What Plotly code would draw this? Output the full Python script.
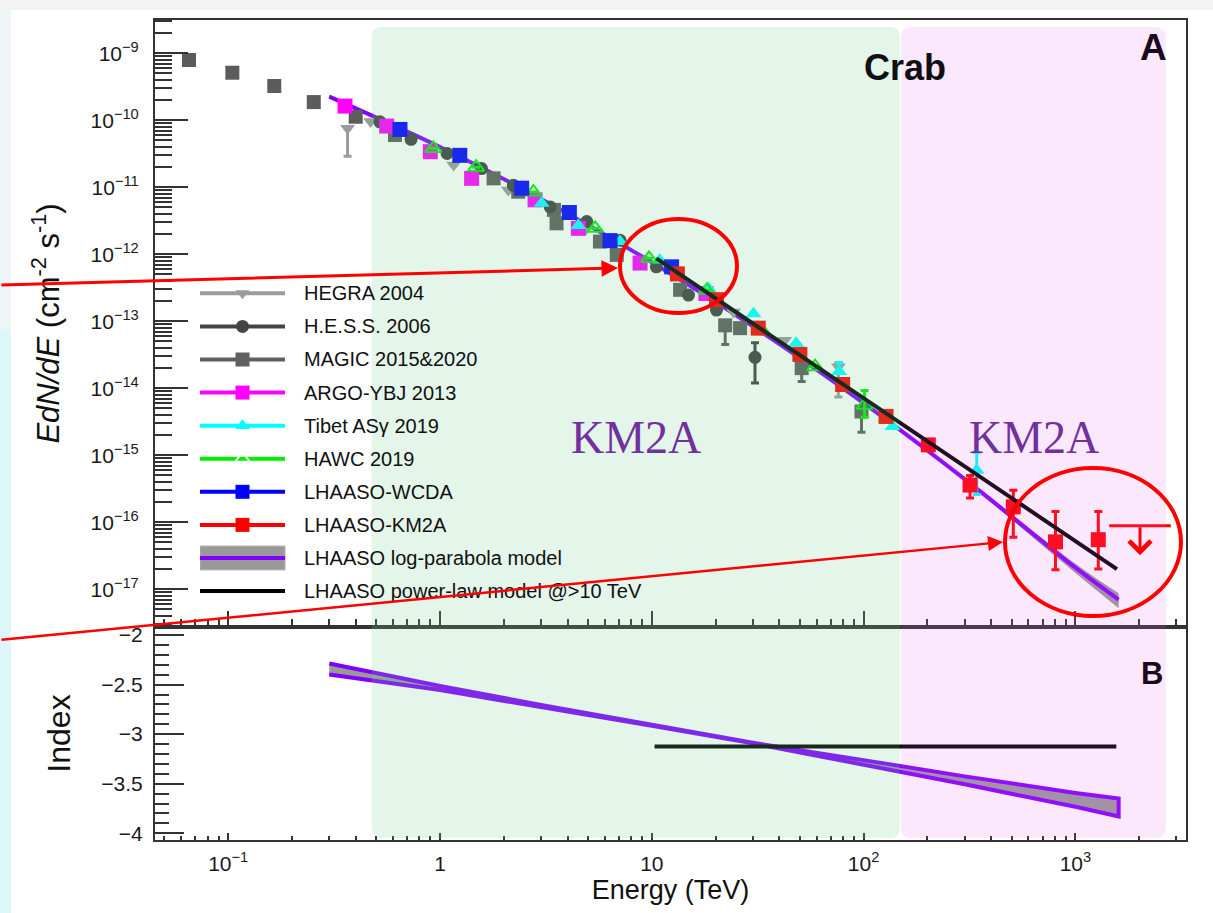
import html
import math
import plotly.graph_objects as go

# ------------------------------------------------------------------ data
# Crab Nebula spectrum: E in TeV, E dN/dE in cm^-2 s^-1.
# *_HI / *_LO hold error-bar ends (None where no bar is drawn).
HEGRA_E = [0.366, 0.47, 1.16, 2.1, 4.84, 24.3, 42.4, 76.0]
HEGRA_F = [7.6e-11, 9.6e-11, 2.15e-11, 9.1e-12, 2.3e-12, 1.38e-13, 5.2e-14, 2.1e-14]
HEGRA_HI = [None, None, None, None, None, None, None, 2.4e-14]
HEGRA_LO = [2.9e-11, None, None, None, None, None, None, 7.4e-15]

HESS_E = [0.52, 0.73, 1.08, 1.57, 2.22, 3.31, 4.93, 7.08, 10.5, 14.9, 20.2, 30.7]
HESS_F = [9.5e-11, 5.2e-11, 3.2e-11, 1.9e-11, 1.07e-11, 5.1e-12, 3.08e-12, 1.62e-12,
          6.5e-13, 2.46e-13, 1.47e-13, 2.9e-14]
HESS_HI = [None] * 11 + [4.8e-14]
HESS_LO = [None] * 11 + [1.2e-14]

MAGIC_E = [0.0653, 0.1046, 0.165, 0.2535, 0.40, 0.613, 1.79, 2.34, 3.45, 3.55, 5.69,
           6.83, 13.6, 22.2, 26.1, 51.0, 97.7]
MAGIC_F = [7.94e-10, 5.13e-10, 3.25e-10, 1.87e-10, 1.13e-10, 6.04e-11, 1.36e-11, 8.6e-12,
           4.6e-12, 2.9e-12, 1.55e-12, 9.8e-13, 2.95e-13, 8.7e-14, 7.9e-14, 2.0e-14, 4.5e-15]
MAGIC_HI = [None] * 13 + [1.0e-13, None, 2.3e-14, 5.5e-15]
MAGIC_LO = [None] * 13 + [4.5e-14, None, 1.26e-14, 2.2e-15]

ARGO_E = [0.356, 0.56, 0.90, 1.41, 2.81, 4.5, 8.8, 18.0]
ARGO_F = [1.63e-10, 8.2e-11, 3.4e-11, 1.36e-11, 6.5e-12, 2.44e-12, 7.4e-13, 2.6e-13]

TIBET_E = [3.02, 4.5, 7.08, 10.9, 18.5, 30.2, 48.0, 76.7, 137.0, 342.0]
TIBET_F = [5.8e-12, 2.7e-12, 1.55e-12, 8.2e-13, 3.1e-13, 1.3e-13, 4.7e-14, 1.78e-14,
           2.7e-15, 6.0e-16]
TIBET_HI = [None] * 7 + [2.4e-14, None, 1.1e-15]
TIBET_LO = [None] * 7 + [None, None, 2.6e-16]

HAWC_E = [0.93, 1.48, 2.76, 5.4, 9.7, 18.2, 33.0, 59.0, 101.0]
HAWC_F = [3.8e-11, 2.0e-11, 8.5e-12, 2.44e-12, 8.7e-13, 2.9e-13, 7.4e-14, 2.1e-14, 5.6e-15]
HAWC_HI = [None] * 8 + [9.3e-15]
HAWC_LO = [None] * 8 + [3.7e-15]

WCDA_E = [0.647, 1.24, 2.43, 4.08, 6.35, 12.4]
WCDA_F = [7.3e-11, 3.0e-11, 9.7e-12, 4.2e-12, 1.6e-12, 6.5e-13]

KM2A_E = [13.2, 20.2, 31.8, 50.0, 79.6, 127.6, 202.0, 318.0, 509.0, 805.0, 1282.0]
KM2A_F = [5.1e-13, 2.1e-13, 7.9e-14, 3.2e-14, 1.14e-14, 3.8e-15, 1.43e-15, 3.6e-16,
          1.7e-16, 5.1e-17, 5.5e-17]
KM2A_HI = [None] * 7 + [5.0e-16, 3.0e-16, 1.45e-16, 1.45e-16]
KM2A_LO = [None] * 7 + [2.3e-16, 6.0e-17, 1.95e-17, 2.0e-17]
KM2A_UL_E = [2018.0]
KM2A_UL_F = [8.9e-17]

# LHAASO log-parabola fit (line and its band) and power law above 10 TeV
LP_E = [0.3, 1, 3, 10, 30, 100, 300, 1000, 1600]
LP_F = [2.26e-10, 4.0e-11, 6.7e-12, 7.6e-13, 8.4e-14, 6.0e-15, 4.4e-16, 2.1e-17, 7.0e-18]
LP_F_HI = [2.36e-10, 4.1e-11, 6.8e-12, 7.7e-13, 8.5e-14, 6.2e-15, 4.7e-16, 2.4e-17, 8.7e-18]
LP_F_LO = [2.16e-10, 3.9e-11, 6.6e-12, 7.5e-13, 8.3e-14, 5.8e-15, 4.1e-16, 1.75e-17, 5.2e-18]
PL_E = [10.5, 1570.0]
PL_F = [8.7e-13, 2.0e-17]

# local spectral index of the fits
IDX_E = [0.3, 1, 3, 10, 30, 100, 300, 1000, 1600]
IDX_HI = [-2.288, -2.515, -2.705, -2.906, -3.087, -3.262, -3.426, -3.593, -3.650]
IDX_LO = [-2.398, -2.555, -2.725, -2.916, -3.093, -3.312, -3.506, -3.733, -3.830]
PL_IDX_E = [10.3, 1560.0]
PL_IDX = [-3.125, -3.125]

# energy bands highlighted behind the spectrum (TeV)
BAND_GREEN_E = [0.476, 148.6]
BAND_PINK_E = [150.2, 2670.0]

# axis ticks
X_TICKS = [0.1, 1, 10, 100, 1000]
X_TICKTEXT = ["10<sup>\u22121</sup>", "1", "10", "10<sup>2</sup>", "10<sup>3</sup>"]
Y_TICKS = [1e-9, 1e-10, 1e-11, 1e-12, 1e-13, 1e-14, 1e-15, 1e-16, 1e-17]
Y_TICKTEXT = ["10<sup>\u22129</sup>", "10<sup>\u221210</sup>", "10<sup>\u221211</sup>",
              "10<sup>\u221212</sup>", "10<sup>\u221213</sup>", "10<sup>\u221214</sup>",
              "10<sup>\u221215</sup>", "10<sup>\u221216</sup>", "10<sup>\u221217</sup>"]

LEGEND_LABELS = ["HEGRA 2004", "H.E.S.S. 2006", "MAGIC 2015&2020", "ARGO-YBJ 2013",
                 "Tibet AS\u03b3 2019", "HAWC 2019", "LHAASO-WCDA", "LHAASO-KM2A",
                 "LHAASO log-parabola model", "LHAASO power-law model @>10 TeV"]

# ------------------------------------------------------------------ layout geometry
W, H = 1213, 913
ML, MR, MT, MB = 155, 27, 20, 73
PW, PH = W - ML - MR, H - MT - MB
SPLIT_PX = 627
X_RANGE = [-1.3456, 3.522]
Y1_RANGE = [-17.563, -8.503]
Y2_RANGE = [-4.068, -1.919]

FONT = "Liberation Sans, Arial, sans-serif"
AXC = "#333333"
PURPLE = "#8000ff"
GRAY_BAND = "#999999"
RED = "#ff0000"


def px_x(px):
    return (px - ML) / PW


def px_y(py):
    return (H - MB - py) / PH


def e_paper(e):
    return (math.log10(e) - X_RANGE[0]) / (X_RANGE[1] - X_RANGE[0])


split = px_y(SPLIT_PX)

fig = go.Figure()


def err_bars(f, hi, lo, color):
    if hi is None:
        return None
    up = [None if h is None else h - v for h, v in zip(hi, f)]
    dn = [None if l is None else v - l for l, v in zip(lo, f)]
    return dict(type="data", symmetric=False, array=up, arrayminus=dn,
                color=color, thickness=3, width=4)


# log-parabola band + line
fig.add_trace(go.Scatter(x=LP_E, y=LP_F_LO, mode="lines", line=dict(width=0, shape="spline"),
                         showlegend=False, hoverinfo="skip"))
fig.add_trace(go.Scatter(x=LP_E, y=LP_F_HI, mode="lines", line=dict(width=0, shape="spline"),
                         fill="tonexty", fillcolor=GRAY_BAND, showlegend=False, hoverinfo="skip"))
fig.add_trace(go.Scatter(x=LP_E, y=LP_F, mode="lines",
                         line=dict(color=PURPLE, width=4, shape="spline"), showlegend=False))

SERIES = [
    (HEGRA_E, HEGRA_F, HEGRA_HI, HEGRA_LO, "#9b9b9b", "triangle-down", 13),
    (MAGIC_E, MAGIC_F, MAGIC_HI, MAGIC_LO, "#5c5c5c", "square", 14),
    (HESS_E, HESS_F, HESS_HI, HESS_LO, "#3f3f3f", "circle", 13),
    (ARGO_E, ARGO_F, None, None, "#ff00ff", "square", 15),
    (TIBET_E, TIBET_F, TIBET_HI, TIBET_LO, "#00ffff", "triangle-up", 14),
    (HAWC_E, HAWC_F, HAWC_HI, HAWC_LO, "#00ee00", "triangle-up-open", 14),
    (WCDA_E, WCDA_F, None, None, "#0000ff", "square", 15),
    (KM2A_E, KM2A_F, KM2A_HI, KM2A_LO, RED, "square", 15),
]
for e, f, hi, lo, col, sym, size in SERIES:
    marker = dict(symbol=sym, size=size, color=col)
    if sym.endswith("open"):
        marker["line"] = dict(color=col, width=2)
    fig.add_trace(go.Scatter(x=e, y=f, mode="markers", marker=marker,
                             error_y=err_bars(f, hi, lo, col), showlegend=False))

# KM2A upper limit: horizontal bar, arrow added below as an annotation
fig.add_trace(go.Scatter(x=KM2A_UL_E, y=KM2A_UL_F, mode="markers",
                         marker=dict(symbol="line-ew", size=44, line=dict(color=RED, width=3)),
                         showlegend=False))

# power law above 10 TeV
fig.add_trace(go.Scatter(x=PL_E, y=PL_F, mode="lines", line=dict(color="black", width=4),
                         showlegend=False))

# index panel
fig.add_trace(go.Scatter(x=IDX_E + IDX_E[::-1], y=IDX_HI + IDX_LO[::-1], mode="lines",
                         fill="toself", fillcolor=GRAY_BAND,
                         line=dict(color=PURPLE, width=4), xaxis="x2", yaxis="y2",
                         showlegend=False))
fig.add_trace(go.Scatter(x=PL_IDX_E, y=PL_IDX, mode="lines", line=dict(color="black", width=4),
                         xaxis="x2", yaxis="y2", showlegend=False))

# ------------------------------------------------------------------ hand-made legend
# x3 spans 200..700 px; one unit of x3 is the 85 px sample length
LEG_X_PX = (200, 700)
LEG_UNIT = 85.0
LEG_STYLES = [
    ("#9b9b9b", "triangle-down", 12),
    ("#444444", "circle", 13),
    ("#606060", "square", 14),
    ("#ff00ff", "square", 14),
    ("#00ffff", "triangle-up", 13),
    ("#00ee00", "triangle-up-open", 13),
    ("#0000ff", "square", 14),
    (RED, "square", 14),
]
leg = dict(xaxis="x3", yaxis="y3", showlegend=False, hoverinfo="skip", cliponaxis=False)
for i, (col, sym, size) in enumerate(LEG_STYLES):
    fig.add_trace(go.Scatter(x=[0, 1], y=[i, i], mode="lines", line=dict(color=col, width=4),
                             **leg))
    mk = dict(symbol=sym, size=size, color=col)
    if sym.endswith("open"):
        mk["line"] = dict(color=col, width=2)
        mk["color"] = "white"
    fig.add_trace(go.Scatter(x=[0.5], y=[i], mode="markers", marker=mk, **leg))
n = len(LEG_STYLES)
fig.add_trace(go.Scatter(x=[0, 1, 1, 0, 0], y=[n - 0.36, n - 0.36, n + 0.36, n + 0.36, n - 0.36],
                         mode="lines", fill="toself", fillcolor=GRAY_BAND,
                         line=dict(color="#b0b0b0", width=1), **leg))
fig.add_trace(go.Scatter(x=[0, 1], y=[n, n], mode="lines", line=dict(color=PURPLE, width=4),
                         **leg))
fig.add_trace(go.Scatter(x=[0, 1], y=[n + 1, n + 1], mode="lines",
                         line=dict(color="black", width=4), **leg))

annotations = []
for i, lab in enumerate(LEGEND_LABELS):
    annotations.append(dict(x=1.2, y=i, xref="x3", yref="y3", text=html.escape(lab),
                            showarrow=False, xanchor="left", yanchor="middle",
                            font=dict(family=FONT, size=20, color="#111111")))


def label(px, py, text, size, color, family=FONT):
    return dict(x=px_x(px), y=px_y(py), xref="paper", yref="paper", text=text,
                showarrow=False, xanchor="center", yanchor="middle",
                font=dict(family=family, size=size, color=color))


# panel labels
annotations += [
    label(905, 67, "<b>Crab</b>", 36, "#101010"),
    label(1153, 47, "<b>A</b>", 37, "#1c0a1c"),
    label(1152, 673, "<b>B</b>", 31, "#1c0a1c"),
]

# upper-limit arrow
ul_x = math.log10(KM2A_UL_E[0])
ul_y = math.log10(KM2A_UL_F[0])
annotations.append(dict(x=ul_x, y=ul_y - 0.44, xref="x", yref="y", ax=ul_x, ay=ul_y,
                        axref="x", ayref="y", text="", showarrow=True, arrowhead=4,
                        arrowsize=1.4, arrowwidth=3, arrowcolor=RED, standoff=0))

# slide call-outs
KM2A_COLOR = "#7030a0"
SERIF = "Liberation Serif, DejaVu Serif, serif"
annotations += [
    label(636, 437, "KM2A", 46, KM2A_COLOR, SERIF),
    label(1034, 437, "KM2A", 46, KM2A_COLOR, SERIF),
    dict(x=px_x(618), y=px_y(268), xref="paper", yref="paper", ax=-618, ay=17, text="",
         showarrow=True, arrowhead=2, arrowsize=1.1, arrowwidth=3, arrowcolor=RED, standoff=0),
    dict(x=px_x(1003), y=px_y(542), xref="paper", yref="paper", ax=-1003, ay=98, text="",
         showarrow=True, arrowhead=2, arrowsize=1.2, arrowwidth=2.5, arrowcolor=RED, standoff=0),
]


def rounded_box(x0, x1, y0, y1, rx, ry):
    return (f"M{x0 + rx},{y1} L{x1 - rx},{y1} Q{x1},{y1} {x1},{y1 - ry} "
            f"L{x1},{y0 + ry} Q{x1},{y0} {x1 - rx},{y0} L{x0 + rx},{y0} "
            f"Q{x0},{y0} {x0},{y0 + ry} L{x0},{y1 - ry} Q{x0},{y1} {x0 + rx},{y1} Z")


rx, ry = 10 / PW, 10 / PH
top, bot = px_y(27), px_y(838)
shapes = [
    # page edges
    dict(type="rect", xref="paper", yref="paper", x0=px_x(0), x1=px_x(W), y0=px_y(10),
         y1=px_y(0), fillcolor="#f3f3f3", line=dict(width=0), layer="below"),
    dict(type="rect", xref="paper", yref="paper", x0=px_x(0), x1=px_x(11), y0=px_y(330),
         y1=px_y(10), fillcolor="#eef5f6", line=dict(width=0), layer="below"),
    dict(type="rect", xref="paper", yref="paper", x0=px_x(0), x1=px_x(11), y0=px_y(913),
         y1=px_y(330), fillcolor="#ddf7fa", line=dict(width=0), layer="below"),
    # translucent energy bands over the figure
    dict(type="path", xref="paper", yref="paper",
         path=rounded_box(e_paper(BAND_GREEN_E[0]), e_paper(BAND_GREEN_E[1]), bot, top, rx, ry),
         fillcolor="rgba(120,205,150,0.2)", line=dict(width=0), layer="above"),
    dict(type="path", xref="paper", yref="paper",
         path=rounded_box(e_paper(BAND_PINK_E[0]), e_paper(BAND_PINK_E[1]), bot, top, rx, ry),
         fillcolor="rgba(235,100,235,0.15)", line=dict(width=0), layer="above"),
    # call-out ellipses
    dict(type="circle", xref="paper", yref="paper", x0=px_x(620), x1=px_x(737),
         y0=px_y(313), y1=px_y(219), line=dict(color=RED, width=4), layer="above"),
    dict(type="circle", xref="paper", yref="paper", x0=px_x(1005), x1=px_x(1181),
         y0=px_y(616), y1=px_y(468), line=dict(color=RED, width=4), layer="above"),
]

# ------------------------------------------------------------------ axes
x_minor = [k * 10 ** d for d in range(-2, 4) for k in range(2, 10)
           if X_RANGE[0] <= math.log10(k * 10 ** d) <= X_RANGE[1]]
y_minor = [k * 10.0 ** d for d in range(-18, -8) for k in range(2, 10)
           if Y1_RANGE[0] <= math.log10(k * 10.0 ** d) <= Y1_RANGE[1]]

tickfont = dict(family=FONT, size=21, color="#1a1a1a")
common = dict(showgrid=False, zeroline=False, showline=True, linewidth=2, linecolor=AXC,
              mirror=True, ticks="inside", tickwidth=1.5, tickcolor=AXC, tickfont=tickfont)

fig.update_layout(
    width=W, height=H,
    margin=dict(l=ML, r=MR, t=MT, b=MB, pad=0),
    # transparent subplot backgrounds so the legend subplot does not hide data
    paper_bgcolor="white", plot_bgcolor="rgba(0,0,0,0)",
    showlegend=False,
    xaxis=dict(type="log", range=X_RANGE, domain=[0, 1], anchor="y",
               tickmode="array", tickvals=X_TICKS, showticklabels=False, ticklen=16,
               minor=dict(tickmode="array", tickvals=x_minor, ticks="inside", ticklen=8,
                          tickwidth=1.5, tickcolor=AXC, showgrid=False),
               **common),
    yaxis=dict(type="log", range=Y1_RANGE, domain=[split, 1], anchor="x",
               tickmode="array", tickvals=Y_TICKS, ticktext=Y_TICKTEXT, ticklen=33,
               ticklabelstandoff=10,
               minor=dict(tickmode="array", tickvals=y_minor, ticks="inside", ticklen=17,
                          tickwidth=1.5, tickcolor=AXC, showgrid=False),
               title=dict(text="<i>EdN/dE</i> (cm<sup>-2</sup> s<sup>-1</sup>)",
                          font=dict(family=FONT, size=31, color="#111111"), standoff=22),
               **common),
    xaxis2=dict(type="log", range=X_RANGE, domain=[0, 1], anchor="y2", matches="x",
                tickmode="array", tickvals=X_TICKS, ticktext=X_TICKTEXT, ticklen=7,
                ticklabelstandoff=4,
                minor=dict(tickmode="array", tickvals=x_minor, ticks="inside", ticklen=4,
                           tickwidth=1.5, tickcolor=AXC, showgrid=False),
                title=dict(text="Energy (TeV)", font=dict(family=FONT, size=27, color="#111111"),
                           standoff=2),
                **common),
    yaxis2=dict(range=Y2_RANGE, domain=[0, split], anchor="x2", tick0=-4, dtick=0.5,
                ticklen=29, ticklabelstandoff=6,
                minor=dict(dtick=0.1, ticks="inside", ticklen=14, tickwidth=1.5,
                           tickcolor=AXC, showgrid=False),
                title=dict(text="Index", font=dict(family=FONT, size=32, color="#111111"),
                           standoff=21),
                **common),
    xaxis3=dict(domain=[px_x(LEG_X_PX[0]), px_x(LEG_X_PX[1])],
                range=[0, (LEG_X_PX[1] - LEG_X_PX[0]) / LEG_UNIT], anchor="y3",
                visible=False, fixedrange=True),
    yaxis3=dict(domain=[px_y(607.6), px_y(276.8)], range=[9.5, -0.5], anchor="x3",
                visible=False, fixedrange=True),
    annotations=annotations,
    shapes=shapes,
)

fig.write_html("out.html")
